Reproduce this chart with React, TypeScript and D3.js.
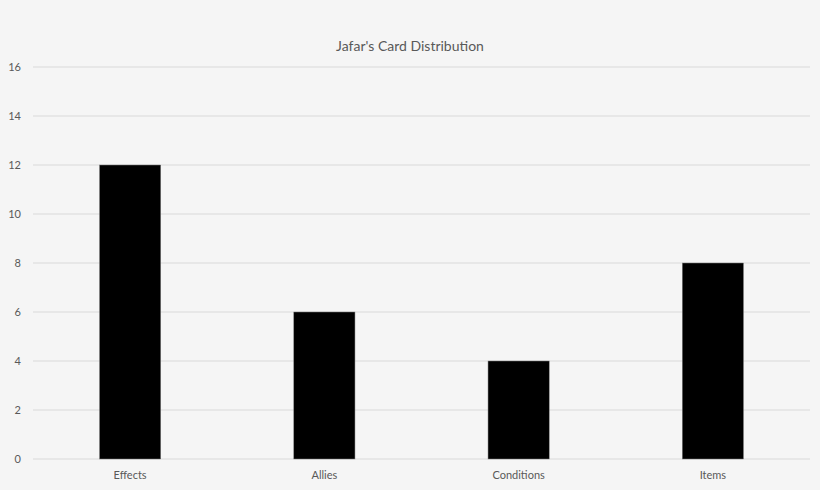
import React from "react";
import * as d3 from "d3";

const categories = ["Effects", "Allies", "Conditions", "Items"];
const counts = [12, 6, 4, 8];
const yTicks = [0, 2, 4, 6, 8, 10, 12, 14, 16];

const width = 820;
const height = 490;
const margin = { top: 67, right: 10, bottom: 31, left: 33 };
const font = "Lato, 'Open Sans', sans-serif";

function App() {
  const x = d3
    .scaleBand()
    .domain(categories)
    .range([margin.left, width - margin.right])
    .paddingInner(0.685)
    .paddingOuter(0.3425);

  const y = d3
    .scaleLinear()
    .domain([0, 16])
    .range([height - margin.bottom, margin.top]);

  return (
    <div style={{ position: "absolute", left: 0, top: 0 }}>
      <svg width={width} height={height} style={{ display: "block" }}>
        <rect width={width} height={height} fill="#f5f5f5" />
        <text
          x={410}
          y={51}
          textAnchor="middle"
          fontFamily={font}
          fontSize={14}
          fill="#595959"
        >
          Jafar's Card Distribution
        </text>

        {/* gridlines + y labels */}
        {yTicks.map((t) => (
          <g key={t}>
            <line
              x1={margin.left}
              x2={width - margin.right}
              y1={y(t)}
              y2={y(t)}
              stroke="#d9d9d9"
              strokeWidth={1}
            />
            <text
              x={21}
              y={y(t)}
              dy="0.35em"
              textAnchor="end"
              fontFamily={font}
              fontSize={11}
              fill="#595959"
            >
              {t}
            </text>
          </g>
        ))}

        {categories.map((c, i) => (
          <g key={c}>
            <rect
              x={x(c)}
              y={y(counts[i])}
              width={x.bandwidth()}
              height={y(0) - y(counts[i])}
              fill="#000"
              stroke="#7f7f7f"
              strokeWidth={0.5}
            />
            <text
              x={(x(c) as number) + x.bandwidth() / 2}
              y={y(0) + 20}
              textAnchor="middle"
              fontFamily={font}
              fontSize={11}
              fill="#595959"
            >
              {c}
            </text>
          </g>
        ))}
      </svg>
    </div>
  );
}

export default App;
